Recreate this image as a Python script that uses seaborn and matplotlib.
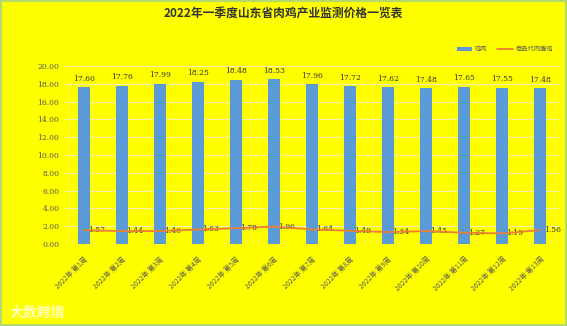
import matplotlib
matplotlib.use("Agg")
import matplotlib.pyplot as plt
import seaborn as sns
import pandas as pd
import numpy as np

weeks = [f"2022年 第{i}周" for i in range(1, 14)]
chicken = [17.60, 17.76, 17.99, 18.25, 18.48, 18.53, 17.96, 17.72, 17.62, 17.48, 17.65, 17.55, 17.48]
chicks = [1.57, 1.44, 1.46, 1.63, 1.78, 1.96, 1.64, 1.49, 1.34, 1.45, 1.27, 1.19, 1.56]
yticks = [0, 2, 4, 6, 8, 10, 12, 14, 16, 18, 20]

sns.set_theme(style="white")
plt.rcParams['font.family'] = ['Noto Sans CJK SC', 'DejaVu Sans']

df = pd.DataFrame({"week": weeks, "鸡肉": chicken, "商品代肉雏鸡": chicks})

fig = plt.figure(figsize=(5.67, 3.26), dpi=100, facecolor="#FFFF00")
ax = fig.add_axes([65/567, 1-244/326, 494/567, (244-66)/326])
ax.set_facecolor("#FFFF00")

sns.barplot(data=df, x="week", y="鸡肉", color="#5B9BD5", width=0.32, ax=ax,
            saturation=1, label="鸡肉", zorder=3, linewidth=0, edgecolor="none")
xs = np.arange(len(weeks))
sns.lineplot(x=xs, y=chicks, color="#ED7D31", linewidth=1.3, ax=ax, label="商品代肉雏鸡", zorder=4)

for x, v in zip(xs, chicken):
    ax.text(x, v + 0.5, f"{v:.2f}", ha="center", va="bottom", fontsize=5.5, color="#333333",
            family="DejaVu Serif")
for x, v in zip(xs, chicks):
    ax.text(x + 0.12, v, f"{v:.2f}", ha="left", va="center", fontsize=5.5, color="#333333",
            family="DejaVu Serif")

ax.set_ylim(0, 20)
ax.set_xlim(-0.5, 12.5)
ax.set_yticks(yticks)
ax.set_yticklabels([f"{t:.2f}" for t in yticks], fontsize=5.5, color="#555555", family="DejaVu Serif")
ax.set_xticks(xs)
ax.set_xticklabels(weeks, rotation=45, ha="right", va="top", rotation_mode="anchor",
                   fontsize=5, color="#555555")
ax.tick_params(axis="y", length=0, pad=4)
ax.tick_params(axis="x", length=0, pad=8)
ax.grid(axis="y", color="#F2F2B0", linewidth=0.8, zorder=0)
ax.set_axisbelow(True)
for s in ax.spines.values():
    s.set_visible(False)
ax.set_xlabel("")
ax.set_ylabel("")

handles, labels = ax.get_legend_handles_labels()
order = [labels.index("鸡肉"), labels.index("商品代肉雏鸡")]
leg = ax.legend([handles[i] for i in order], [labels[i] for i in order],
                loc="lower right", bbox_to_anchor=(1.0, 1.04), ncol=2, frameon=False,
                fontsize=4.5, handlelength=2.5, columnspacing=1.5, handletextpad=0.5)
for t in leg.get_texts():
    t.set_color("#555555")

fig.text(0.5, 1-14/326, "2022年一季度山东省肉鸡产业监测价格一览表", ha="center", va="center",
         fontsize=8.5, fontweight="bold", color="#333333")
fig.text(10/567, 1-312/326, "大数跨境", ha="left", va="center", fontsize=10,
         color="white", alpha=0.75, fontweight="bold")

border = plt.Rectangle((0.002, 0.003), 0.996, 0.994, transform=fig.transFigure, fill=False,
                       edgecolor="#B5D96A", linewidth=1.5)
fig.patches.append(border)

fig.savefig("out.png", dpi=100, facecolor=fig.get_facecolor())
